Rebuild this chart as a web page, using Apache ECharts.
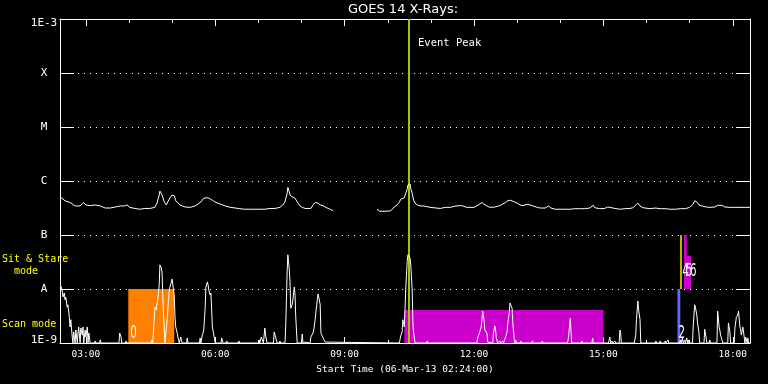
<!DOCTYPE html>
<html><head><meta charset="utf-8">
<script src="https://cdn.jsdelivr.net/npm/echarts@6/dist/echarts.min.js"></script>
<style>html,body{margin:0;padding:0;background:#000;}#c{width:768px;height:384px;}</style>
</head><body><div id="c"></div>
<script>
// ---------- data ----------
const timeStart = '02:24';
const timeEnd = '18:24';
const xTickLabels = ['03:00','06:00','09:00','12:00','15:00','18:00'];
const xMinorTicks = ['03:00','04:00','05:00','06:00','07:00','08:00','09:00','10:00','11:00','12:00','13:00','14:00','15:00','16:00','17:00','18:00'];
const yTickLabels = ['1E-9','A','B','C','M','X','1E-3'];
const eventPeak = '10:30';

// GOES 1-8 A (upper curve)
const longTimes = ['02:25','02:27','02:31','02:38','02:45','02:52','02:57','03:00','03:06','03:13','03:20','03:27','03:34','03:41','03:48','03:54','03:57','04:01','04:08','04:15','04:22','04:29','04:36','04:39','04:42','04:43','04:46','04:49','04:52','04:54','04:57','05:00','05:03','05:05','05:11','05:18','05:25','05:32','05:36','05:40','05:44','05:50','05:56','06:01','06:07','06:14','06:21','06:28','06:34','06:41','06:48','06:55','07:02','07:09','07:16','07:23','07:30','07:34','07:37','07:40','07:41','07:43','07:44','07:45','07:47','07:48','07:51','07:54','07:58','08:01','08:05','08:09','08:13','08:16','08:19','08:23','08:26','08:30','08:34','08:37','08:40','08:44','09:15',
'09:45','09:49','09:56','10:04','10:09','10:13','10:16','10:18','10:23','10:25','10:27','10:28','10:31','10:32','10:34','10:36','10:38','10:41','10:45','10:50','10:59','11:13','11:20','11:27','11:35','11:43','11:50','12:00','12:08','12:11','12:14','12:18','12:22','12:29','12:36','12:40','12:44','12:47','12:51','12:56','13:00','13:04','13:08','13:14','13:18','13:22','13:28','13:32','13:39','13:44','13:47','13:53','14:00','14:14','14:20','14:27','14:34','14:41','14:46','14:48','14:55','15:02','15:06','15:09','15:16','15:23','15:30','15:37','15:41','15:45','15:48','15:51','15:55','16:05','16:12','16:19','16:26','16:33','16:40','16:47','16:54','17:00','17:05','17:07','17:10','17:13','17:17','17:23','17:28','17:35','17:39','17:45','17:49','17:56','18:03','18:10','18:17','18:24'];
const longFlux = [5.0e-7,4.8e-7,4.3e-7,4.0e-7,3.45e-7,3.45e-7,4.0e-7,3.6e-7,3.5e-7,3.6e-7,3.45e-7,3.16e-7,3.16e-7,3.3e-7,3.45e-7,3.45e-7,3.6e-7,3.25e-7,3.1e-7,3.0e-7,3.1e-7,3.1e-7,3.25e-7,3.9e-7,5.5e-7,6.5e-7,5.5e-7,4.1e-7,3.6e-7,4.1e-7,4.9e-7,5.5e-7,5.3e-7,4.3e-7,3.6e-7,3.3e-7,3.25e-7,3.45e-7,3.75e-7,4.1e-7,4.8e-7,4.9e-7,4.4e-7,4.0e-7,3.75e-7,3.45e-7,3.25e-7,3.16e-7,3.07e-7,3.0e-7,3.0e-7,3.0e-7,3.0e-7,3.0e-7,3.1e-7,3.1e-7,3.25e-7,3.6e-7,4.1e-7,5.9e-7,7.6e-7,6.3e-7,5.5e-7,5.3e-7,5.1e-7,5.0e-7,4.8e-7,4.1e-7,3.45e-7,3.25e-7,3.1e-7,3.1e-7,3.1e-7,3.6e-7,4.0e-7,3.9e-7,3.6e-7,3.5e-7,3.25e-7,3.1e-7,3.0e-7,2.8e-7,null,
3.0e-7,2.75e-7,2.75e-7,2.8e-7,3.3e-7,3.6e-7,4.0e-7,4.6e-7,4.9e-7,5.9e-7,7.0e-7,8.4e-7,8.8e-7,7.3e-7,5.9e-7,4.4e-7,3.9e-7,3.6e-7,3.45e-7,3.45e-7,3.25e-7,3.1e-7,3.25e-7,3.25e-7,3.45e-7,3.5e-7,3.25e-7,3.25e-7,3.75e-7,4.0e-7,3.7e-7,3.45e-7,3.25e-7,3.3e-7,3.5e-7,3.75e-7,4.0e-7,4.3e-7,4.4e-7,4.1e-7,3.9e-7,3.6e-7,3.5e-7,3.7e-7,3.6e-7,3.45e-7,3.25e-7,3.16e-7,3.16e-7,3.45e-7,3.16e-7,3.0e-7,3.0e-7,3.0e-7,3.07e-7,3.07e-7,3.07e-7,3.16e-7,3.55e-7,3.2e-7,3.07e-7,3.1e-7,3.3e-7,3.25e-7,3.1e-7,3.0e-7,3.07e-7,3.1e-7,3.2e-7,3.6e-7,3.9e-7,3.45e-7,3.2e-7,3.07e-7,3.16e-7,3.07e-7,3.07e-7,3.0e-7,3.0e-7,3.07e-7,3.07e-7,3.25e-7,3.75e-7,4.3e-7,4.1e-7,3.6e-7,3.45e-7,3.3e-7,3.25e-7,3.3e-7,3.55e-7,3.55e-7,3.3e-7,3.25e-7,3.25e-7,3.25e-7,3.25e-7,3.25e-7];

// GOES 0.5-4 A (lower curve)
const shortTimes = ['02:25','02:27','02:28','02:30','02:31','02:32','02:34','02:35','02:37','02:38','02:39','02:41','02:42','02:43','02:45','02:46','02:48','02:49','02:50','02:52','02:53','02:55','02:56','02:57','02:59','03:00','03:02','03:03','03:04','03:06','03:12','03:13','03:14','03:19','03:20','03:21','03:46','03:47','03:49','03:50','03:55','03:56','03:57','04:31','04:32','04:33','04:35','04:36','04:38','04:39','04:40','04:42','04:43','04:45','04:46','04:47','04:49','04:50','04:52','04:53','04:55','04:56','04:57','04:59','05:00','05:01','05:03','05:04','05:05','05:07','05:08','05:10','05:12','05:14','05:20','05:21','05:22','05:38','05:39','05:40','05:42','05:43','05:44','05:46','05:47','05:49','05:50','05:51','05:53','05:54','05:56','05:57','05:58','06:00','06:08','06:09','06:11','06:15','06:16','06:17','06:32','06:33','06:34','07:00','07:01','07:02','07:04','07:06','07:07','07:09','07:10','07:12','07:21','07:22','07:24','07:26','07:29','07:30','07:31','07:37','07:38','07:40','07:41','07:43','07:44','07:45','07:47','07:48','07:50','07:51','07:52','07:54','08:00','08:01','08:02','08:04','08:05','08:06','08:12','08:13','08:16','08:17','08:19','08:20','08:22','08:23','08:24','08:26','08:27','08:30','08:33','08:34','10:16','10:17','10:18','10:20','10:21','10:23','10:24','10:25','10:27','10:28','10:30','10:31','10:32','10:34','10:35','10:36','10:38','10:54','10:55','10:56','12:04','12:05','12:07','12:08','12:10','12:11','12:12','12:14','12:15','12:17','12:18','12:19','12:20','12:26','12:27','12:29','12:30','12:31','12:33','12:35','12:36','12:37','12:39','12:40','12:41','12:43','12:44','12:46','12:47','12:49','12:50','12:51','12:53','12:54','12:56','12:57','12:58','12:59','13:04','13:05','13:06','13:20','13:21','13:23','13:24','13:34','13:35','13:36','14:10','14:11','14:12','14:14','14:15','14:16','14:29','14:30','14:31','14:44','14:45','14:46','15:07','15:08','15:09','15:10','15:12','15:13','15:15','15:16','15:17','15:22','15:23','15:24','15:25','15:43','15:45','15:46','15:48','15:49','15:51','15:52','16:12','16:13','16:14','16:18','16:19','16:20','16:25','16:26','16:27','16:29','16:30','16:31','16:46','16:47','16:48','16:50','16:51','16:53','16:54','16:56','16:57','16:58','16:59','17:04','17:05','17:07','17:08','17:10','17:11','17:13','17:14','17:20','17:21','17:23','17:24','17:27','17:28','17:29','17:38','17:39','17:41','17:42','17:43','17:45','17:46','17:53','17:54','17:56','17:57','18:02','18:03','18:05','18:07','18:08','18:10','18:11','18:12','18:14','18:15','18:17','18:18','18:20','18:21','18:22','18:24'];
const shortFlux = [1.14e-8,9.6e-9,7.1e-9,8.4e-9,6.3e-9,7.1e-9,4.6e-9,5.1e-9,3.0e-9,1.98e-9,2.7e-9,1.29e-9,1e-9,1.6e-9,1e-9,1.74e-9,1e-9,1.53e-9,1.98e-9,1e-9,1.9e-9,1.4e-9,1.98e-9,1e-9,1.74e-9,1.29e-9,1.98e-9,1e-9,1.53e-9,1e-9,1e-9,1.09e-9,1e-9,1e-9,1.14e-9,1e-9,1e-9,1.53e-9,1.29e-9,1e-9,1e-9,1.09e-9,1e-9,1e-9,1.14e-9,1e-9,2.7e-9,4.6e-9,4.1e-9,5.5e-9,6.3e-9,1.19e-8,2.8e-8,2.45e-8,1.98e-8,7.1e-9,1.74e-9,1e-9,1e-9,2.7e-9,6.3e-9,9.6e-9,1.09e-8,1.35e-8,1.53e-8,1.19e-8,7.1e-9,3.0e-9,1.98e-9,1.53e-9,1.29e-9,1e-9,1.29e-9,1e-9,1e-9,1.24e-9,1e-9,1e-9,1.24e-9,1e-9,1.4e-9,1.53e-9,1.74e-9,4.6e-9,1.09e-8,1.35e-8,1.19e-8,9.6e-9,7.7e-9,8.4e-9,1.98e-9,1.9e-9,1.9e-9,1e-9,1e-9,1.24e-9,1e-9,1e-9,1.09e-9,1e-9,1e-9,1.09e-9,1e-9,1e-9,1.14e-9,1e-9,1.29e-9,1.29e-9,1e-9,1.9e-9,1.4e-9,1e-9,1e-9,1.6e-9,1.6e-9,1e-9,1e-9,1.09e-9,1e-9,1e-9,1.98e-9,2.07e-8,4.3e-8,2.25e-8,1.35e-8,4.4e-9,5.1e-9,6.3e-9,1.09e-8,7.7e-9,3.0e-9,1e-9,1e-9,1.47e-9,1e-9,1e-9,1.04e-9,1e-9,1e-9,1.29e-9,1.53e-9,1.74e-9,2.7e-9,3.75e-9,6.3e-9,8.1e-9,7.1e-9,5.1e-9,1.53e-9,1.24e-9,1.04e-9,1e-9,1e-9,1.14e-9,1.35e-9,1.6e-9,2.7e-9,1.98e-9,4.1e-9,9.6e-9,3.2e-8,4.3e-8,4.3e-8,3.75e-8,2.8e-8,9.6e-9,2.35e-9,1.53e-9,1e-9,1e-9,1.09e-9,1e-9,1e-9,1.24e-9,1.24e-9,1.6e-9,1.98e-9,2.7e-9,3.9e-9,2.7e-9,1.74e-9,1.6e-9,1.53e-9,1.04e-9,1e-9,1e-9,1.53e-9,2.07e-9,1.74e-9,1.24e-9,1e-9,1e-9,1.09e-9,1e-9,1e-9,1.09e-9,1e-9,1e-9,1.29e-9,1.6e-9,2.35e-9,3.6e-9,5.5e-9,5.5e-9,4.4e-9,2.35e-9,1.14e-9,1e-9,1.14e-9,1e-9,1e-9,1.09e-9,1e-9,1e-9,1.09e-9,1.14e-9,1e-9,1e-9,1.09e-9,1e-9,1e-9,1.14e-9,1.24e-9,2.9e-9,1.53e-9,1e-9,1e-9,1.09e-9,1e-9,1e-9,1.24e-9,1e-9,1e-9,1.14e-9,1.29e-9,1e-9,1.09e-9,1e-9,1e-9,1.09e-9,1e-9,1e-9,1.74e-9,1.53e-9,1e-9,1e-9,1.4e-9,2.7e-9,6.0e-9,4.1e-9,2.7e-9,1e-9,1e-9,1.09e-9,1e-9,1e-9,1.09e-9,1e-9,1e-9,1.09e-9,1e-9,1e-9,1.14e-9,1e-9,1e-9,1.14e-9,1e-9,1.24e-9,1e-9,1.14e-9,1e-9,1.24e-9,1e-9,1.14e-9,1e-9,1e-9,2.07e-9,5.1e-9,4.6e-9,3.3e-9,2.35e-9,1.53e-9,1e-9,1e-9,1.8e-9,1.24e-9,1e-9,1e-9,1.14e-9,1e-9,1e-9,3.9e-9,1.98e-9,1.74e-9,1.4e-9,1.14e-9,1e-9,1e-9,2.35e-9,1.6e-9,1e-9,1e-9,1.9e-9,3.0e-9,3.3e-9,3.9e-9,1.98e-9,1.74e-9,1.4e-9,1.98e-9,1.6e-9,1e-9,1.29e-9,1e-9,1.24e-9,1e-9,1e-9];

// observation periods (boxes)
const obsLabels = ['0','','2','4','5','6'];
const obsStart  = ['03:59','10:23','16:43','16:47','16:52','16:52'];
const obsEnd    = ['05:03','15:00','16:47','16:49','17:02','16:56'];
const obsLow    = [1e-9, 1e-9, 1e-9, 1e-8, 1e-8, 1e-8];
const obsHigh   = [1e-8, 4.1e-9, 1e-8, 1e-7, 4.1e-8, 1e-7];

// ---------- styles ----------
const obsColors = ['#ff8000','#cc00cc','#6464ff','#ffff00','#cc00cc','#cc00cc'];
const obsLabelDx = [2, 0, 1, 2, 2, 6];
const obsLabelDy = [-9, 0, -9, -17, -17, -17];
const FONT = 'DejaVu Sans Mono';

const toH = s => { const p = s.split(':'); return +p[0] + (+p[1]) / 60; };
const fmtH = v => { const h = Math.floor(v + 1e-6), m = Math.round((v - h) * 60); return String(h).padStart(2,'0') + ':' + String(m).padStart(2,'0'); };

const longData = longTimes.map((t, i) => [toH(t), longFlux[i]]);
const shortData = shortTimes.map((t, i) => [toH(t), shortFlux[i]]);
const obsData = obsStart.map((s, i) => [toH(s), toH(obsEnd[i]), obsLow[i], obsHigh[i], i]);
const majorH = xTickLabels.map(toH);
const minorH = xMinorTicks.map(toH);

const white = '#ffffff';
function xAx(pos, ticks, len, showLine, showLabel) {
  return {
    type: 'value', position: pos, min: toH(timeStart), max: toH(timeEnd),
    axisLine: { show: showLine, lineStyle: { color: white, width: 1 } },
    axisTick: { show: true, inside: true, length: len, customValues: ticks, lineStyle: { color: white } },
    axisLabel: showLabel ? { show: true, customValues: majorH, formatter: fmtH, color: white, fontFamily: FONT, fontSize: 9.5, margin: 7 } : { show: false },
    splitLine: { show: false },
    name: showLabel ? 'Start Time (06-Mar-13 02:24:00)' : '',
    nameLocation: 'middle', nameGap: 22,
    nameTextStyle: { color: white, fontFamily: FONT, fontSize: 9.5 }
  };
}

const chart = echarts.init(document.getElementById('c'), null, { renderer: 'canvas' });
chart.setOption({
  backgroundColor: '#000',
  animation: false,
  grid: { left: 60, right: 18, top: 19, bottom: 41 },
  xAxis: [
    xAx('bottom', majorH, 6, true, true),
    xAx('bottom', minorH, 3, false, false),
    xAx('top', majorH, 7, true, false),
    xAx('top', minorH, 4, false, false)
  ],
  yAxis: [
    {
      type: 'log', logBase: 10, min: 1e-9, max: 1e-3, interval: 1, position: 'left',
      axisLine: { show: true, lineStyle: { color: white } },
      axisTick: { show: true, inside: true, length: 14, lineStyle: { color: white } },
      axisLabel: { color: white, fontFamily: FONT, fontSize: 11, align: 'center', margin: 16,
        formatter: v => {
          const k = Math.round(Math.log10(v)) + 9;
          if (k === 6) return '{hi|' + yTickLabels[k] + '}';
          if (k === 0) return '{lo|' + yTickLabels[k] + '}';
          return yTickLabels[k];
        },
        rich: {
          hi: { color: white, fontFamily: FONT, fontSize: 11, padding: [8, 0, 0, 0] },
          lo: { color: white, fontFamily: FONT, fontSize: 11, padding: [0, 0, 5, 0] }
        } },
      splitLine: { show: true, lineStyle: { color: white, type: [1, 5], width: 1 } }
    },
    {
      type: 'log', logBase: 10, min: 1e-9, max: 1e-3, interval: 1, position: 'right',
      axisLine: { show: true, lineStyle: { color: white } },
      axisTick: { show: true, inside: true, length: 14, lineStyle: { color: white } },
      axisLabel: { show: false }, splitLine: { show: false }
    }
  ],
  graphic: [
    { type: 'text', x: 403, y: 10, style: { text: 'GOES 14 X-Rays:', fill: white, font: '13px DejaVu Sans', align: 'center', verticalAlign: 'middle' } },
    { type: 'text', x: 2, y: 265, style: { text: 'Sit & Stare\n  mode', fill: '#ffff00', font: '10px ' + FONT, align: 'left', verticalAlign: 'middle', lineHeight: 12 } },
    { type: 'text', x: 2, y: 324, style: { text: 'Scan mode', fill: '#ffff00', font: '10px ' + FONT, align: 'left', verticalAlign: 'middle' } }
  ],
  series: [
    {
      type: 'custom', name: 'obs', data: obsData, encode: { x: [0, 1], y: [2, 3] }, clip: true,
      renderItem(params, api) {
        const i = api.value(4);
        const p0 = api.coord([api.value(0), api.value(3)]);
        const p1 = api.coord([api.value(1), api.value(2)]);
        const children = [{ type: 'rect', shape: { x: p0[0], y: p0[1], width: p1[0] - p0[0], height: p1[1] - p0[1] }, style: { fill: obsColors[i] } }];
        if (obsLabels[i]) {
          children.push({ type: 'text', x: p0[0] + obsLabelDx[i], y: p1[1] + obsLabelDy[i], scaleX: 0.6, z2: 10,
            style: { text: obsLabels[i], fill: white, font: '17px DejaVu Sans', align: 'left', verticalAlign: 'middle' } });
        }
        return { type: 'group', children };
      }
    },
    { type: 'line', name: 'long', data: longData, smooth: false, showSymbol: false, symbol: 'none', connectNulls: false, lineStyle: { color: white, width: 1 }, clip: true },
    { type: 'line', name: 'short', data: shortData, smooth: false, showSymbol: false, symbol: 'none', lineStyle: { color: white, width: 1 }, clip: true },
    {
      type: 'custom', name: 'peak', data: [[toH(eventPeak), 1e-3]], encode: { x: 0, y: 1 },
      renderItem(params, api) {
        const t = api.value(0);
        const top = api.coord([t, 1e-3]);
        const bot = api.coord([t, 1e-9]);
        const x = Math.round(top[0]);
        return { type: 'group', children: [
          { type: 'line', shape: { x1: x, y1: top[1], x2: x, y2: bot[1] }, style: { stroke: '#99cc00', lineWidth: 2 } },
          { type: 'text', x: x + 9, y: top[1] + 24, style: { text: 'Event Peak', fill: white, font: '10.5px ' + FONT, align: 'left', verticalAlign: 'middle' } }
        ] };
      }
    }
  ]
});
</script></body></html>
